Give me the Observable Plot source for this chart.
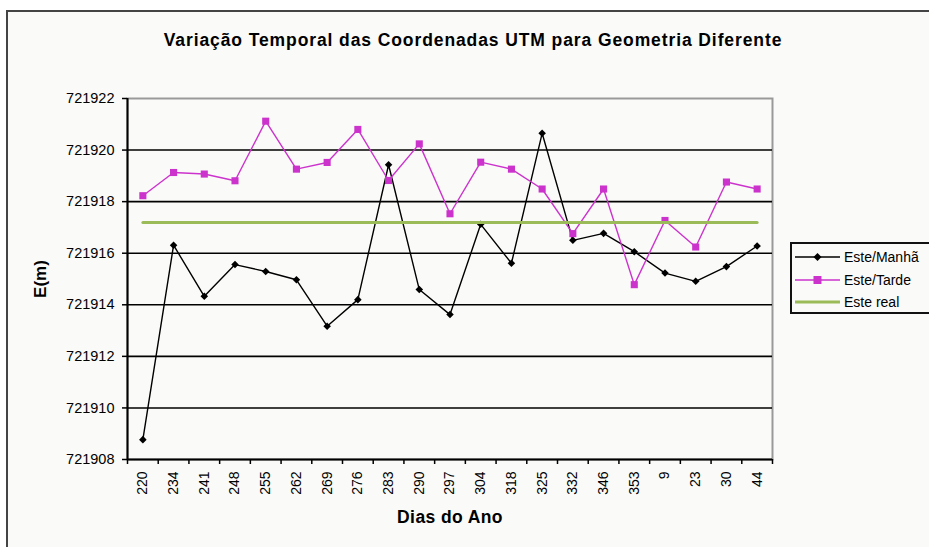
<!DOCTYPE html>
<html>
<head>
<meta charset="utf-8">
<script src="https://cdn.jsdelivr.net/npm/d3@7"></script>
<script src="https://cdn.jsdelivr.net/npm/@observablehq/plot@0.6"></script>
<style>
  html, body { margin: 0; padding: 0; background: #ffffff; }
  #wrap { position: relative; width: 929px; height: 547px; overflow: hidden; font-family: "Liberation Sans", Arial, sans-serif; }
  #chartbg { position: absolute; left: 6px; top: 10px; width: 1000px; height: 600px; border-left: 2px solid #444; border-top: 2px solid #444; background: #fafaf8; }
  #plot { position: absolute; left: 0; top: 0; }
  #legend { position: absolute; left: 790px; top: 242px; width: 160px; height: 68px; border: 2px solid #111; background: #fafaf8; font-size: 14px; color: #000; }
  .row { position: absolute; left: 3px; height: 20px; display: flex; align-items: center; }
  .row svg { display: block; }
  .row span { margin-left: 4px; white-space: nowrap; }
</style>
</head>
<body>
<div id="wrap">
  <div id="chartbg"></div>
  <div id="plot"></div>
  <div id="legend"></div>
</div>
<script>
const title = "Variação Temporal das Coordenadas UTM para Geometria Diferente";
const xLabel = "Dias do Ano";
const yLabel = "E(m)";
const categories = ["220","234","241","248","255","262","269","276","283","290","297","304","318","325","332","346","353","9","23","30","44"];
const manha = [721908.77, 721916.31, 721914.33, 721915.56, 721915.29, 721914.97, 721913.17, 721914.20, 721919.43, 721914.59, 721913.62, 721917.12, 721915.61, 721920.65, 721916.50, 721916.77, 721916.06, 721915.23, 721914.91, 721915.48, 721916.28];
const tarde = [721918.23, 721919.13, 721919.07, 721918.81, 721921.12, 721919.26, 721919.52, 721920.80, 721918.82, 721920.24, 721917.53, 721919.53, 721919.26, 721918.49, 721916.76, 721918.49, 721914.78, 721917.27, 721916.24, 721918.76, 721918.49];
const esteReal = 721917.19;
const seriesNames = ["Este/Manhã", "Este/Tarde", "Este real"];
const yTicks = [721908, 721910, 721912, 721914, 721916, 721918, 721920, 721922];

const n = categories.length;
const idx = d3.range(n);
const colManha = "#000000", colTarde = "#cc33cc", colReal = "#9bbb59";

const chart = Plot.plot({
  width: 929,
  height: 547,
  marginLeft: 127,
  marginRight: 157,
  marginTop: 98,
  marginBottom: 88,
  style: { background: "transparent", fontFamily: "'Liberation Sans', Arial, sans-serif", fontSize: "14px", color: "#000", overflow: "visible" },
  x: { type: "linear", domain: [-0.5, n - 0.5] },
  y: { domain: [yTicks[0], yTicks[yTicks.length - 1]] },
  marks: [
    Plot.frame({ stroke: "#999", strokeWidth: 2 }),
    Plot.gridY(yTicks.slice(1, -1), { stroke: "#000", strokeOpacity: 1, strokeWidth: 1.6 }),
    Plot.ruleY([yTicks[0]], { stroke: "#000", strokeWidth: 2 }),
    Plot.ruleX([-0.5], { stroke: "#000", strokeWidth: 2 }),
    Plot.axisY({ ticks: yTicks, tickFormat: "d", tickSize: 5, tickPadding: 8, fontSize: 14.5, label: null, stroke: "#000", strokeWidth: 1.5 }),
    Plot.axisX({ ticks: d3.range(n + 1).map(i => i - 0.5), tickSize: 5, tickFormat: () => "", label: null, stroke: "#000", strokeWidth: 1.5 }),
    Plot.axisX({ ticks: idx, tickSize: 0, tickPadding: 12, tickRotate: -90, tickFormat: i => categories[i], fontSize: 14, label: null }),
    Plot.line(idx, { x: i => i, y: i => manha[i], stroke: colManha, strokeWidth: 1.4 }),
    Plot.dot(idx, { x: i => i, y: i => manha[i], symbol: "diamond2", r: 3.4, fill: colManha, stroke: null }),
    Plot.line(idx, { x: i => i, y: i => tarde[i], stroke: colTarde, strokeWidth: 1.4 }),
    Plot.dot(idx, { x: i => i, y: i => tarde[i], symbol: "square", r: 4, fill: colTarde, stroke: null }),
    Plot.line(idx, { x: i => i, y: () => esteReal, stroke: colReal, strokeWidth: 3 }),
    Plot.text([title], { frameAnchor: "top", lineAnchor: "middle", textAnchor: "middle", dx: 23, dy: -58, fontSize: 17.5, fontWeight: "bold" }),
    Plot.text([yLabel], { frameAnchor: "left", lineAnchor: "middle", textAnchor: "middle", dx: -87, rotate: -90, fontSize: 17, fontWeight: "bold" }),
    Plot.text([xLabel], { frameAnchor: "bottom", lineAnchor: "middle", textAnchor: "middle", dy: 58, fontSize: 17.5, fontWeight: "bold" })
  ]
});
document.getElementById("plot").appendChild(chart);
// letter spacing for the title and axis label texts
chart.querySelectorAll("text").forEach(t => { if (t.textContent === title) t.setAttribute("letter-spacing", "0.9"); if (t.textContent === xLabel) t.setAttribute("letter-spacing", "0.4"); });

// Legend
const legend = document.getElementById("legend");
const swatches = [
  { name: seriesNames[0], color: colManha, marker: "diamond", w: 1.4 },
  { name: seriesNames[1], color: colTarde, marker: "square", w: 1.4 },
  { name: seriesNames[2], color: colReal, marker: null, w: 3 }
];
swatches.forEach((s, k) => {
  const row = document.createElement("div");
  row.className = "row";
  row.style.top = (3 + k * 22.5) + "px";
  let m = "";
  if (s.marker === "diamond") m = `<path d="M22.5,6 l4,4 l-4,4 l-4,-4z" fill="${s.color}"/>`;
  if (s.marker === "square") m = `<rect x="18.5" y="6" width="8" height="8" fill="${s.color}"/>`;
  row.innerHTML = `<svg width="45" height="20"><line x1="0" x2="45" y1="10" y2="10" stroke="${s.color}" stroke-width="${s.w}"/>${m}</svg><span>${s.name}</span>`;
  legend.appendChild(row);
});
</script>
</body>
</html>
